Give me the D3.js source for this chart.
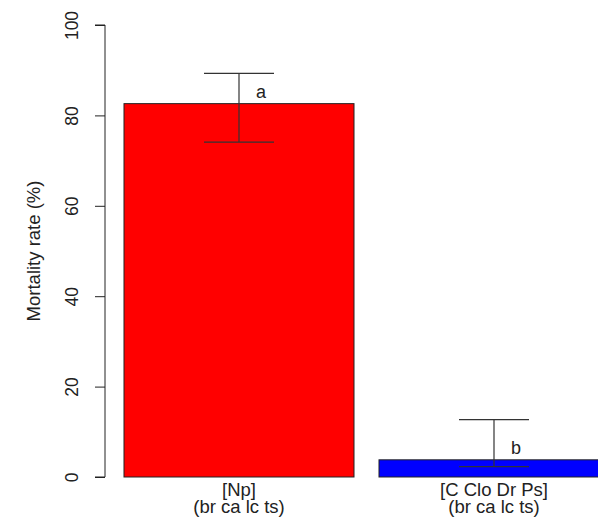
<!DOCTYPE html>
<html>
<head>
<meta charset="utf-8">
<script src="https://cdn.jsdelivr.net/npm/d3@7"></script>
<style>
  body { margin: 0; background: #fff; }
  svg text { font-family: "Liberation Sans", Arial, sans-serif; fill: #222; }
</style>
</head>
<body>
<svg id="chart" width="598" height="521"></svg>
<script>
// Mortality rate by treatment group, with error bar bounds and significance letters
const groups = ["[Np]\n(br ca lc ts)", "[C Clo Dr Ps]\n(br ca lc ts)"];
const mortality = [82.6, 3.8];
const errLow = [74.1, 2.3];
const errHigh = [89.3, 12.7];
const letters = ["a", "b"];
const barColors = ["#ff0000", "#0000ff"];
const yTicks = [0, 20, 40, 60, 80, 100];

const svg = d3.select("#chart");

const y = d3.scaleLinear().domain([0, 100]).range([477, 25]);
const x = d3.scaleBand()
  .domain(d3.range(groups.length))
  .range([111.5, 621.5])
  .paddingInner(0.098)
  .paddingOuter(0.049);

// bars
svg.append("g").selectAll("rect")
  .data(mortality)
  .join("rect")
  .attr("x", (d, i) => x(i))
  .attr("width", x.bandwidth())
  .attr("y", d => y(d))
  .attr("height", d => y(0) - y(d))
  .attr("fill", (d, i) => barColors[i])
  .attr("stroke", "#222")
  .attr("stroke-width", 1);

// error bars
const capHalf = 35;
const eb = svg.append("g").attr("stroke", "#333").attr("stroke-width", 1.2);
mortality.forEach((d, i) => {
  const cx = x(i) + x.bandwidth() / 2;
  eb.append("line").attr("x1", cx).attr("x2", cx).attr("y1", y(errLow[i])).attr("y2", y(errHigh[i]));
  eb.append("line").attr("x1", cx - capHalf).attr("x2", cx + capHalf).attr("y1", y(errLow[i])).attr("y2", y(errLow[i]));
  eb.append("line").attr("x1", cx - capHalf).attr("x2", cx + capHalf).attr("y1", y(errHigh[i])).attr("y2", y(errHigh[i]));
});

// significance letters
svg.append("g").selectAll("text")
  .data(letters)
  .join("text")
  .attr("x", (d, i) => x(i) + x.bandwidth() / 2 + 22)
  .attr("y", (d, i) => y(mortality[i]) - 6)
  .attr("text-anchor", "middle")
  .attr("font-size", 18)
  .text(d => d);

// y axis
const yAxis = d3.axisLeft(y).tickValues(yTicks).tickSize(10);
const ga = svg.append("g").attr("transform", "translate(105,0)").call(yAxis);
ga.select(".domain").attr("stroke", "#222").attr("d", `M-10,${y(100)}H0V${y(0)}H-10`);
ga.selectAll(".tick line").attr("stroke", "#222");
ga.selectAll(".tick text")
  .attr("font-size", 17.5)
  .attr("fill", "#222")
  .attr("text-anchor", "middle")
  .attr("transform", "rotate(-90)")
  .attr("x", 0)
  .attr("y", -33)
  .attr("dy", "0.35em");

// y axis title
svg.append("text")
  .attr("transform", `translate(34,${(y(0) + y(100)) / 2}) rotate(-90)`)
  .attr("text-anchor", "middle")
  .attr("dy", "0.35em")
  .attr("font-size", 18.5)
  .text("Mortality rate (%)");

// category labels (two lines each)
const cat = svg.append("g").selectAll("text")
  .data(groups)
  .join("text")
  .attr("text-anchor", "middle")
  .attr("font-size", 18.5)
  .attr("transform", (d, i) => `translate(${x(i) + x.bandwidth() / 2},0)`);
cat.each(function(d) {
  const lines = d.split("\n");
  d3.select(this).selectAll("tspan")
    .data(lines)
    .join("tspan")
    .attr("x", 0)
    .attr("y", (l, j) => 496 + j * 17)
    .text(l => l);
});
</script>
</body>
</html>
